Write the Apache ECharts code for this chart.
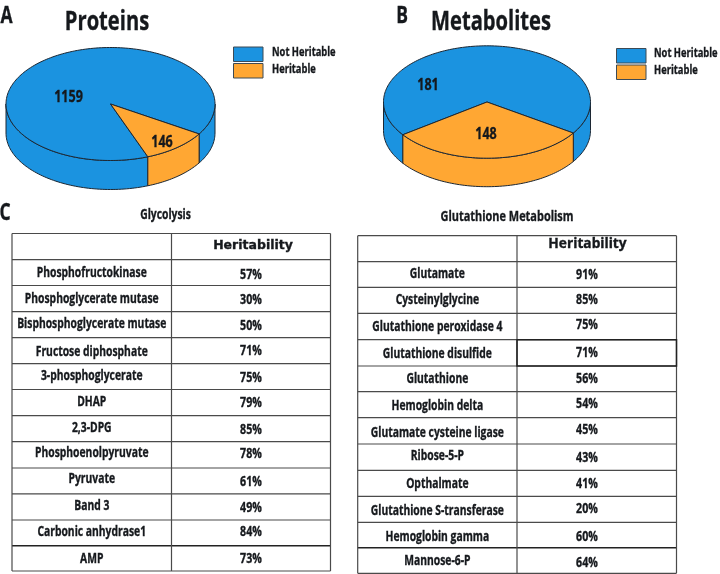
<!DOCTYPE html>
<html>
<head>
<meta charset="utf-8">
<style>html,body{margin:0;padding:0;background:#fff}#chart{width:720px;height:574px}</style>
<script src="https://cdn.jsdelivr.net/npm/echarts@6/dist/echarts.min.js"></script>
</head>
<body>
<div id="chart"></div>
<script>
// ---- data ----
const legendNames = ['Not Heritable', 'Heritable'];
const proteinCounts = [1159, 146];
const metaboliteCounts = [181, 148];
// Slice sizes as drawn. They are read from the wedges themselves, because the
// reference's wedges are not proportional to its printed counts.
const proteinDrawnShare = [0.897, 0.103];
const metaboliteDrawnShare = [0.692, 0.308];

const glycolysisNames = ['Phosphofructokinase', 'Phosphoglycerate mutase', 'Bisphosphoglycerate mutase',
  'Fructose diphosphate', '3-phosphoglycerate', 'DHAP', '2,3-DPG', 'Phosphoenolpyruvate', 'Pyruvate',
  'Band 3', 'Carbonic anhydrase1', 'AMP'];
const glycolysisHeritability = ['57%', '30%', '50%', '71%', '75%', '79%', '85%', '78%', '61%', '49%', '84%', '73%'];
const glutathioneNames = ['Glutamate', 'Cysteinylglycine', 'Glutathione peroxidase 4', 'Glutathione disulfide',
  'Glutathione', 'Hemoglobin delta', 'Glutamate cysteine ligase', 'Ribose-5-P', 'Opthalmate',
  'Glutathione S-transferase', 'Hemoglobin gamma', 'Mannose-6-P'];
const glutathioneHeritability = ['91%', '85%', '75%', '71%', '56%', '54%', '45%', '43%', '41%', '20%', '60%', '64%'];

// ---- layout and style ----
const BLUE = '#1b93e0', ORANGE = '#ffa733', EDGE = '#1c2733', INK = '#15181c', GRID = '#4a4a4a';
const FACE = '"Open Sans",sans-serif';
const SQUEEZE = 0.76; // the reference face is a condensed bold; none is installed
const colors = [BLUE, ORANGE];

const pieLayouts = [
  { cx: 110.5, cy: 104, rx: 104.5, ry: 56.5, depth: 29, heritableStart: 32 },
  { cx: 487, cy: 102, rx: 103.5, ry: 56.2, depth: 28.5, heritableStart: 33.5 }
];
const rad = d => d * Math.PI / 180;

function arcPoints(p, a, b, dy) {
  const pts = [], n = Math.max(2, Math.ceil(Math.abs(b - a) / 1.5));
  for (let i = 0; i <= n; i++) {
    const t = rad(a + (b - a) * i / n);
    pts.push([p.cx + p.rx * Math.cos(t), p.cy + p.ry * Math.sin(t) + dy]);
  }
  return pts;
}
function pieSeries(share, layout) {
  // Slices run clockwise on screen; the heritable slice starts at heritableStart.
  const hSweep = share[1] * 360, nSweep = share[0] * 360;
  const ranges = [[layout.heritableStart + hSweep, layout.heritableStart + hSweep + nSweep],
                  [layout.heritableStart, layout.heritableStart + hSweep]];
  return {
    type: 'custom', coordinateSystem: 'none', silent: true, animation: false, clip: false,
    data: share.map((v, i) => [v, i]),
    renderItem(params) {
      const i = params.dataIndex, [a, b] = ranges[i], kids = [];
      // visible front wall: the part of the rim with angle in 0..180 (mod 360)
      [[0, 180], [360, 540]].forEach(([lo, hi]) => {
        const s = Math.max(a, lo), e = Math.min(b, hi);
        if (e > s) {
          const top = arcPoints(layout, s, e, 0), bot = arcPoints(layout, e, s, layout.depth);
          kids.push({ type: 'polygon', shape: { points: top.concat(bot) },
            style: { fill: colors[i], stroke: EDGE, lineWidth: 1 } });
        }
      });
      kids.push({ type: 'polygon', shape: { points: [[layout.cx, layout.cy]].concat(arcPoints(layout, a, b, 0)) },
        style: { fill: colors[i], stroke: EDGE, lineWidth: 1, lineJoin: 'round' } });
      return { type: 'group', children: kids };
    }
  };
}

function textEl(text, x, y, font, sx, align, weight) {
  return { type: 'text', x, y, scaleX: sx || SQUEEZE, scaleY: 1,
    style: { text, x: 0, y: 0, font, fill: INK, stroke: INK, lineWidth: weight === undefined ? 0.35 : weight,
      align: align || 'center', verticalAlign: 'middle' } };
}

function legendSeries(x, ys, textX, textYs) {
  return {
    type: 'custom', coordinateSystem: 'none', silent: true, animation: false, clip: false,
    data: legendNames.map((n, i) => [i]),
    renderItem(params) {
      const i = params.dataIndex;
      return { type: 'group', children: [
        { type: 'rect', shape: { x, y: ys[i], width: 29.5, height: 14.5 },
          style: { fill: colors[i], stroke: '#3d4a55', lineWidth: 1 } },
        textEl(legendNames[i], textX, textYs[i], 'bold 12.3px ' + FACE, SQUEEZE, 'left')
      ] };
    }
  };
}

function countSeries(counts, positions) {
  return {
    type: 'custom', coordinateSystem: 'none', silent: true, animation: false, clip: false,
    data: counts.map(v => [v]),
    renderItem(params, api) {
      const i = params.dataIndex, p = positions[i];
      return textEl(String(api.value(0)), p[0], p[1], 'bold 16.5px ' + FACE);
    }
  };
}

const tableLayouts = [
  { x0: 12, x1: 171.5, x2: 330.5,
    lines: [233.5, 259.7, 285.5, 311.7, 337.7, 363.7, 389.5, 415.7, 441.7, 468, 493.8, 520, 545.7, 571],
    nameY: [272.7, 299, 324.3, 352, 376.3, 402.3, 428.3, 453.3, 479.3, 505.7, 531.7, 559],
    pctY: [275, 300.3, 325.7, 351, 377.7, 403.3, 430, 454, 481.7, 507.7, 531.7, 559],
    headY: 245.7, headFont: 'bold 12.5px "DejaVu Sans",sans-serif', headScale: 1, headX: 253, pctX: 251, heavy: [12] },
  { x0: 357.7, x1: 517, x2: 676.5,
    lines: [235.7, 261.7, 287.3, 313.3, 339.7, 366, 391.7, 417.7, 444, 470.3, 496.3, 522.3, 547.7, 573.3],
    nameY: [274, 300.3, 327, 353.7, 379.3, 406, 432.7, 456, 484, 511, 537.3, 560.7],
    pctY: [275, 300, 325, 352.7, 379.3, 404.3, 429.7, 457.7, 483.7, 509, 536.7, 562.7],
    headY: 244.3, headFont: 'bold 14px ' + FACE, headScale: 0.98, headX: 587.5, pctX: 587, heavy: [12], boxed: 3 }
];
function tableSeries(names, values, t) {
  return {
    type: 'custom', coordinateSystem: 'none', silent: true, animation: false, clip: false,
    data: names.map((n, i) => [i]),
    renderItem(params) {
      const i = params.dataIndex, kids = [];
      if (i === 0) {
        // frame, row rules, column rule and header
        t.lines.forEach((y, k) => {
          const heavy = t.heavy.indexOf(k) >= 0;
          kids.push({ type: 'line', shape: { x1: t.x0, y1: y, x2: t.x2, y2: y },
            style: { stroke: heavy ? '#222' : GRID, lineWidth: heavy ? 1.5 : 1.2 } });
        });
        const y0 = t.lines[0], yN = t.lines[t.lines.length - 1];
        [t.x0, t.x1, t.x2].forEach(x => kids.push({ type: 'line', shape: { x1: x, y1: y0, x2: x, y2: yN },
          style: { stroke: GRID, lineWidth: 1.2 } }));
        kids.push(textEl('Heritability', t.headX, t.headY, t.headFont, t.headScale));
      }
      if (t.boxed === i) {
        kids.push({ type: 'rect', shape: { x: t.x1, y: t.lines[i + 1], width: t.x2 - t.x1, height: t.lines[i + 2] - t.lines[i + 1] },
          style: { fill: 'none', stroke: '#222', lineWidth: 1.5 } });
      }
      kids.push(textEl(names[i], (t.x0 + t.x1) / 2, t.nameY[i], 'bold 13.6px ' + FACE));
      kids.push(textEl(values[i], t.pctX, t.pctY[i], 'bold 14px ' + FACE));
      return { type: 'group', children: kids };
    }
  };
}

const annotations = [
  ['A', 6.5, 16, 'bold 23px ' + FACE], ['B', 402, 16.5, 'bold 23px ' + FACE], ['C', 5, 213, 'bold 23px ' + FACE],
  ['Proteins', 107, 22, 'bold 26.5px ' + FACE], ['Metabolites', 491, 22, 'bold 26.5px ' + FACE],
  ['Glycolysis', 165.5, 215, 'bold 13.6px ' + FACE], ['Glutathione Metabolism', 507, 217, 'bold 14.4px ' + FACE]
];
const annotationSeries = {
  type: 'custom', coordinateSystem: 'none', silent: true, animation: false, clip: false,
  data: annotations.map((a, i) => [i]),
  renderItem(params) { const a = annotations[params.dataIndex]; return textEl(a[0], a[1], a[2], a[3]); }
};

const chart = echarts.init(document.getElementById('chart'));
chart.setOption({
  backgroundColor: '#fff',
  animation: false,
  series: [
    pieSeries(proteinDrawnShare, pieLayouts[0]),
    pieSeries(metaboliteDrawnShare, pieLayouts[1]),
    countSeries(proteinCounts, [[68.5, 97], [162, 142]]),
    countSeries(metaboliteCounts, [[428, 85], [486, 134]]),
    legendSeries(233.5, [47, 63.5], 272, [52.5, 69]),
    legendSeries(616.5, [48.5, 65], 654, [53.5, 70.5]),
    tableSeries(glycolysisNames, glycolysisHeritability, tableLayouts[0]),
    tableSeries(glutathioneNames, glutathioneHeritability, tableLayouts[1]),
    annotationSeries
  ]
});
</script>
</body>
</html>
